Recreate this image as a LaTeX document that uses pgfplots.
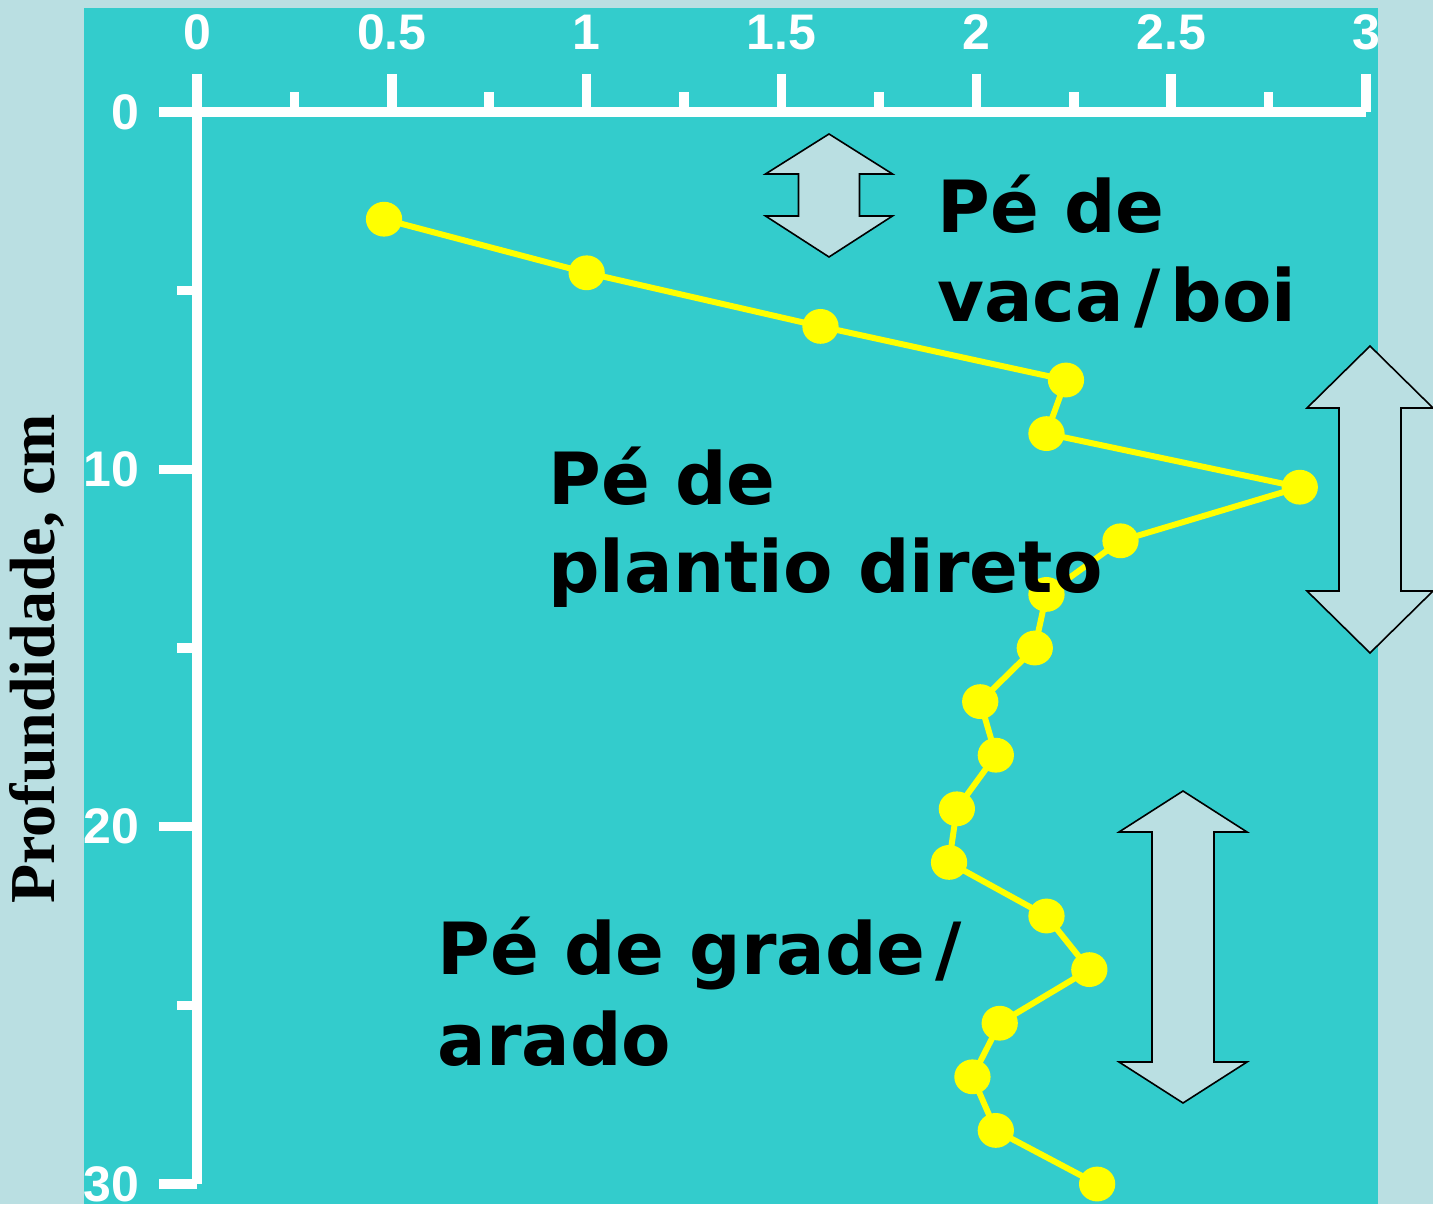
\documentclass[border=0pt]{standalone}
\usepackage{fontspec}
\usepackage{pgfplots}
\pgfplotsset{compat=1.18}
\newfontfamily\tickfont{Liberation Sans}
\newfontfamily\notefont{DejaVu Sans}
\newfontfamily\labelfont{Liberation Serif}
\definecolor{panel}{RGB}{51,204,204}
\definecolor{pale}{RGB}{186,223,226}
\definecolor{trace}{RGB}{255,255,0}

% vertical double-headed block arrow:
% centre x, top tip, top head base, bottom head base, bottom tip, head half-width, shaft half-width
\newcommand{\dblarrow}[7]{%
  \filldraw[fill=pale, draw=black, line width=0.8pt, line join=miter]
    (#1,#2) -- ({#1+#6},#3) -- ({#1+#7},#3) -- ({#1+#7},#4) -- ({#1+#6},#4)
    -- (#1,#5) -- ({#1-#6},#4) -- ({#1-#7},#4) -- ({#1-#7},#3) -- ({#1-#6},#3) -- cycle;
}

\begin{document}
\begin{tikzpicture}
\useasboundingbox (0,0) rectangle (716.5pt,602pt);
\fill[pale] (0,0) rectangle (716.5pt,602pt);
\fill[panel] (42pt,0) rectangle (689pt,598pt);

\begin{axis}[
  at={(98.5pt,546pt)}, anchor=north west,
  scale only axis, width=584.5pt, height=536pt,
  xmin=0, xmax=3, ymin=0, ymax=30, y dir=reverse,
  axis x line=top, axis y line=left,
  axis line style={-, white, line width=4.8pt},
  tick align=outside,
  major tick length=19pt, minor tick length=10pt,
  every tick/.style={white, line width=4.8pt},
  xtick={0,0.5,1,1.5,2,2.5,3},
  minor xtick={0.25,0.75,1.25,1.75,2.25,2.75},
  ytick={0,10,20,30},
  minor ytick={5,15,25},
  /pgf/number format/assume math mode=true,
  ticklabel style={font=\tickfont\bfseries\fontsize{25}{30}\selectfont, text=white},
  xticklabel style={yshift=8.5pt},
  yticklabel style={xshift=-6.5pt},
  ylabel={Profundidade, cm},
  every axis y label/.style={at={(axis description cs:-0.137,0.49)}, rotate=90, anchor=center,
    font=\labelfont\bfseries\fontsize{32}{36}\selectfont, text=black},
  clip=false,
]
\addplot[trace, line width=3pt, mark=*, mark size=7.2pt,
  mark options={fill=trace, draw=none, xscale=1.05}]
  coordinates {
    (0.48,3.0) (1.00,4.5) (1.60,6.0) (2.23,7.5) (2.18,9.0)
    (2.83,10.5) (2.37,12.0) (2.18,13.5) (2.15,15.0) (2.01,16.5)
    (2.05,18.0) (1.95,19.5) (1.93,21.0) (2.18,22.5) (2.29,24.0)
    (2.06,25.5) (1.99,27.0) (2.05,28.5) (2.31,30.0)
  };
\end{axis}

\begin{scope}[x=0.5pt, y=-0.5pt, yshift=602pt]
  \dblarrow{829}{134}{174}{216}{257}{63.5}{30.5}
  \dblarrow{1370}{346}{408}{591}{653}{63}{31}
  \dblarrow{1183}{791}{832}{1062}{1103}{64}{31}
  \begin{scope}[every node/.style={anchor=base west, inner sep=0pt, text=black,
      font=\notefont\bfseries\fontsize{36}{40}\selectfont}]
    \node at (937,233) {Pé de};
    \node at (937,322) {vaca\kern5pt/\kern5pt boi};
    \node at (548,505) {Pé de};
    \node at (548,593) {plantio direto};
    \node at (437,975) {Pé de grade\kern5pt/};
    \node at (437,1065) {arado};
  \end{scope}
\end{scope}
\end{tikzpicture}
\end{document}
